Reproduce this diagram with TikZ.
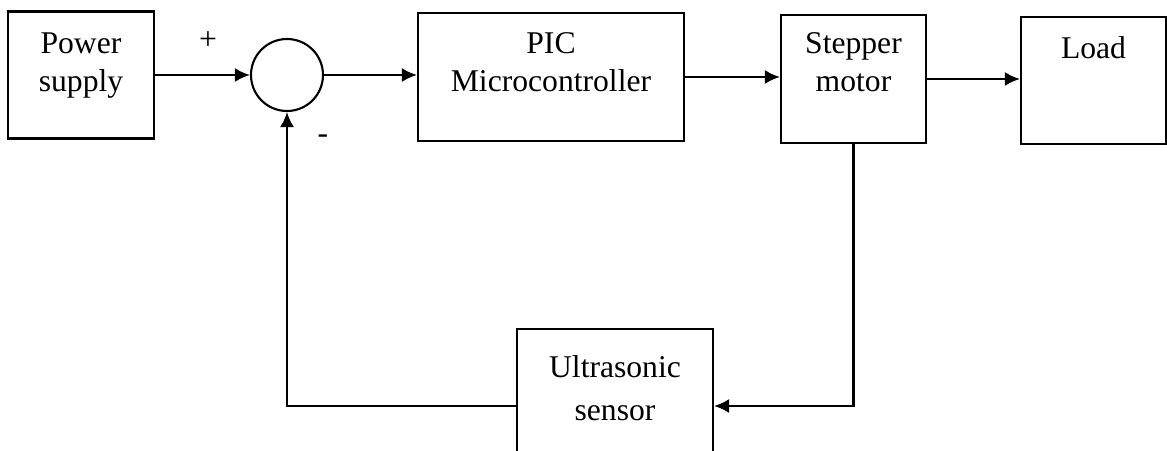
\documentclass[tikz,border=0pt]{standalone}
\usepackage{fontspec}
\setmainfont{Liberation Serif}
\usetikzlibrary{positioning, arrows.meta}

\begin{document}
\begin{tikzpicture}[
  font=\fontsize{18}{21.5}\selectfont,
  block/.style={draw, line width=1.2pt, inner sep=0pt},
  sumpoint/.style={draw, circle, line width=1.2pt, minimum size=1.44cm, inner sep=0pt},
  btext/.style={anchor=north, align=center, inner sep=0pt},
  arr/.style={-{Latex[length=3mm, width=2.8mm]}, line width=1.3pt},
]

% canvas (the sensor box runs off the bottom edge)
\useasboundingbox (0, 0) rectangle (23.34, 9);
\clip (0, 0) rectangle (23.34, 9);

% Forward path blocks
\node[block, minimum width=2.92cm, minimum height=2.54cm] (power)   at (1.62, 7.5)   {};
\node[sumpoint]                                           (sum)     at (5.74, 7.5)   {};
\node[block, minimum width=5.32cm, minimum height=2.56cm] (pic)     at (11.02, 7.46) {};
\node[block, minimum width=2.9cm,  minimum height=2.56cm] (stepper) at (17.07, 7.42) {};
\node[block, minimum width=2.9cm,  minimum height=2.54cm] (load)    at (21.87, 7.39) {};

% Feedback block
\node[block, minimum width=3.92cm, minimum height=3.08cm] (sensor)  at (12.3, 0.88)  {};

% Block texts, set near the top edge
\node[btext, below=0.44cm of power.north]   (powertxt)   {Power\\supply};
\node[btext, below=0.40cm of pic.north]     (pictxt)     {PIC\\Microcontroller};
\node[btext, below=0.36cm of stepper.north] (steppertxt) {Stepper\\motor};
\node[btext, below=0.40cm of load.north]    (loadtxt)    {Load};
\node[btext, below=0.54cm of sensor.north]  (sensortxt)  {Ultrasonic\\[3pt]sensor};

% Signs at the summing point
\node (plus)  at (4.16, 8.18) {+};
\node (minus) at (6.46, 6.22) {-};

% Connectors
\draw[arr] (power) -- (sum);
\draw[arr] (sum.east) -- (sum.east -| pic.west);
\draw[arr] (pic.east) -- (pic.east -| stepper.west);
\draw[arr] (stepper.east) -- (stepper.east -| load.west);
\draw[arr] (stepper.south) |- (sensor.east);
\draw[arr] (sensor.west) -| (sum.south);

\end{tikzpicture}
\end{document}
